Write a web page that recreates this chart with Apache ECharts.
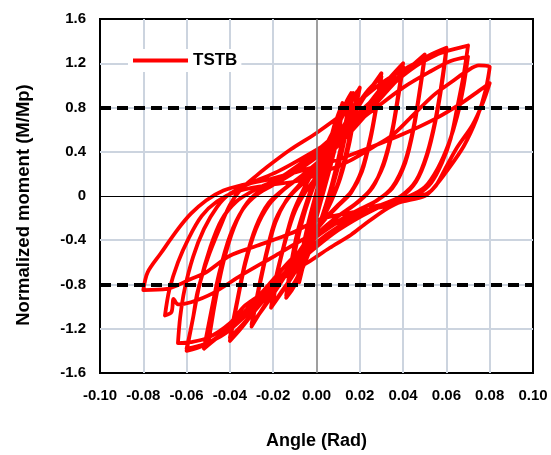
<!DOCTYPE html>
<html>
<head>
<meta charset="utf-8">
<script src="https://cdn.jsdelivr.net/npm/echarts@6/dist/echarts.min.js"></script>
<style>
  html, body { margin: 0; padding: 0; background: #fff; }
  #chart { width: 551px; height: 455px; }
</style>
</head>
<body>
<div id="chart"></div>
<script>
// axis ticks and reference lines
var xTicks = [-0.08, -0.06, -0.04, -0.02, 0.02, 0.04, 0.06, 0.08];
var yTicks = [-1.2, -0.4, 0.4, 1.2];
var limitLines = [0.8, -0.8];

// hysteresis path, one array per amplitude, [angle, M/Mp]
var loopSmall = [[0,0],[0.003,0.2],[0.005,0.36],[0.0035,0.22],[0.001,0],[-0.001,-0.18],[-0.003,-0.34],[-0.0015,-0.2],[0.001,0.02],
  [0.004,0.3],[0.0065,0.5],[0.005,0.36],[0.002,0.08],[-0.001,-0.2],[-0.0045,-0.48],[-0.003,-0.32],[0,-0.06],
  [0.004,0.32],[0.0085,0.66],[0.0065,0.48],[0.003,0.16],[-0.001,-0.22],[-0.006,-0.62],[-0.0045,-0.44],[-0.001,-0.12],
  [0.004,0.32],[0.009,0.68],[0.012,0.84],[0.0105,0.64],[0.007,0.36],[0.003,0.06],[-0.001,-0.24],[-0.005,-0.54],[-0.008,-0.78],
  [-0.0065,-0.58],[-0.0035,-0.3],[0,0.0],[0.004,0.3],[0.008,0.6],[0.012,0.82],[0.0105,0.6],[0.0065,0.27],[0.002,-0.05],
  [-0.002,-0.34],[-0.006,-0.6],[-0.009,-0.78]];
var loop015 = [[-0.007,-0.54],[-0.004,-0.26],[0,0.04],[0.005,0.4],[0.01,0.67],[0.014,0.86],[0.016,0.93],
  [0.014,0.72],[0.011,0.42],[0.007,0.1],[0.003,-0.16],[-0.002,-0.44],[-0.007,-0.68],[-0.011,-0.84],[-0.014,-0.92],
  [-0.012,-0.7],[-0.009,-0.42],[-0.005,-0.12],[0,0.16],[0.006,0.5],[0.012,0.78],[0.017,0.93],
  [0.015,0.72],[0.012,0.42],[0.008,0.12],[0.003,-0.17],[-0.003,-0.48],[-0.009,-0.74],[-0.014,-0.9]];
var loop02 = [[-0.012,-0.64],[-0.009,-0.34],[-0.005,-0.08],[0,0.2],[0.006,0.48],[0.012,0.72],[0.017,0.88],[0.02,0.98],
  [0.018,0.78],[0.015,0.46],[0.011,0.16],[0.007,-0.04],[0.002,-0.24],[-0.004,-0.47],[-0.01,-0.69],[-0.016,-0.87],[-0.021,-1.01],
  [-0.019,-0.76],[-0.015,-0.44],[-0.011,-0.16],[-0.006,0.06],[0,0.28],[0.006,0.52],[0.012,0.74],[0.016,0.86],[0.019,0.95],
  [0.017,0.72],[0.014,0.42],[0.01,0.12],[0.006,-0.06],[0.001,-0.26],[-0.005,-0.5],[-0.011,-0.72],[-0.016,-0.86],[-0.02,-0.98]];
var loop03 = [[-0.018,-0.7],[-0.014,-0.38],[-0.01,-0.14],[-0.005,0.04],[0.001,0.2],[0.008,0.42],[0.015,0.66],[0.021,0.86],[0.026,1.0],[0.03,1.11],
  [0.028,0.86],[0.025,0.54],[0.021,0.24],[0.016,0.04],[0.01,-0.08],[0.004,-0.2],[-0.003,-0.36],[-0.01,-0.56],[-0.017,-0.78],[-0.024,-0.99],[-0.03,-1.18],
  [-0.027,-0.88],[-0.023,-0.52],[-0.019,-0.24],[-0.014,-0.04],[-0.008,0.1],[-0.002,0.24],[0.005,0.42],[0.012,0.62],[0.018,0.8],[0.024,0.96],[0.03,1.08],
  [0.028,0.84],[0.025,0.52],[0.021,0.22],[0.016,0.03],[0.01,-0.09],[0.004,-0.21],[-0.003,-0.38],[-0.01,-0.58],[-0.017,-0.8],[-0.024,-1.0],[-0.03,-1.16]];
var loop04 = [[-0.027,-0.86],[-0.023,-0.5],[-0.019,-0.22],[-0.013,-0.02],[-0.006,0.12],[0.002,0.28],[0.01,0.48],[0.018,0.68],[0.026,0.88],[0.033,1.05],[0.04,1.2],
  [0.038,0.95],[0.035,0.6],[0.031,0.3],[0.026,0.08],[0.019,-0.06],[0.011,-0.17],[0.003,-0.3],[-0.005,-0.46],[-0.013,-0.65],[-0.021,-0.86],[-0.029,-1.05],[-0.035,-1.2],[-0.04,-1.31],
  [-0.037,-1.0],[-0.033,-0.62],[-0.028,-0.3],[-0.022,-0.08],[-0.015,0.06],[-0.007,0.18],[0.002,0.33],[0.01,0.5],[0.018,0.68],[0.026,0.87],[0.033,1.03],[0.04,1.17],
  [0.038,0.92],[0.035,0.58],[0.031,0.28],[0.025,0.06],[0.018,-0.07],[0.01,-0.18],[0.002,-0.31],[-0.006,-0.48],[-0.014,-0.68],[-0.022,-0.88],[-0.03,-1.07],[-0.036,-1.2],[-0.04,-1.28]];
var loop05 = [[-0.037,-0.98],[-0.033,-0.6],[-0.028,-0.28],[-0.022,-0.06],[-0.014,0.08],[-0.005,0.2],[0.005,0.36],[0.015,0.56],[0.025,0.78],[0.034,0.98],[0.042,1.14],[0.05,1.28],
  [0.048,1.0],[0.045,0.64],[0.041,0.32],[0.035,0.08],[0.028,-0.04],[0.019,-0.13],[0.009,-0.24],[-0.001,-0.38],[-0.011,-0.56],[-0.021,-0.78],[-0.031,-1.0],[-0.041,-1.2],[-0.047,-1.3],[-0.052,-1.38],
  [-0.049,-1.08],[-0.045,-0.7],[-0.04,-0.36],[-0.034,-0.12],[-0.027,0.02],[-0.018,0.12],[-0.008,0.24],[0.002,0.38],[0.012,0.56],[0.022,0.76],[0.032,0.96],[0.041,1.12],[0.05,1.25],
  [0.048,0.98],[0.045,0.62],[0.041,0.3],[0.035,0.07],[0.027,-0.05],[0.018,-0.14],[0.008,-0.26],[-0.002,-0.4],[-0.012,-0.58],[-0.022,-0.8],[-0.032,-1.02],[-0.042,-1.22],[-0.05,-1.34]];
var loop06 = [[-0.047,-0.98],[-0.043,-0.6],[-0.038,-0.28],[-0.032,-0.06],[-0.024,0.08],[-0.014,0.2],[-0.003,0.36],[0.009,0.56],[0.02,0.76],[0.031,0.96],[0.042,1.14],[0.052,1.27],[0.06,1.34],
  [0.058,1.05],[0.055,0.7],[0.051,0.38],[0.046,0.14],[0.039,0.0],[0.03,-0.08],[0.02,-0.17],[0.01,-0.28],[0,-0.42],[-0.01,-0.6],[-0.02,-0.8],[-0.031,-1.02],[-0.042,-1.22],[-0.052,-1.35],[-0.06,-1.40],
  [-0.057,-1.1],[-0.054,-0.8],[-0.049,-0.46],[-0.044,-0.22],[-0.037,-0.05],[-0.028,0.06],[-0.018,0.15],[-0.007,0.28],[0.004,0.44],[0.015,0.63],[0.026,0.84],[0.037,1.04],[0.048,1.2],[0.06,1.32],
  [0.058,1.02],[0.055,0.68],[0.051,0.36],[0.046,0.13],[0.039,-0.01],[0.03,-0.09],[0.02,-0.19],[0.01,-0.31],[0,-0.46],[-0.01,-0.63],[-0.02,-0.83],[-0.031,-1.05],[-0.042,-1.24],[-0.052,-1.34],[-0.06,-1.38]];
var loop07 = [[-0.057,-1.1],[-0.055,-0.87],[-0.05,-0.55],[-0.0445,-0.28],[-0.04,-0.08],[-0.035,0.06],[-0.028,0.18],[-0.023,0.26],[-0.012,0.42],[0,0.57],[0.016,0.8],[0.03,1.02],[0.04,1.14],[0.05,1.24],[0.06,1.31],[0.07,1.36],
  [0.068,1.1],[0.065,0.8],[0.062,0.52],[0.058,0.3],[0.053,0.12],[0.047,0.02],[0.04,-0.04],[0.032,-0.12],[0.022,-0.26],[0.016,-0.35],[0.006,-0.47],[-0.004,-0.6],[-0.012,-0.69],[-0.021,-0.83],[-0.033,-0.99],[-0.04,-1.15],[-0.05,-1.28],[-0.058,-1.32],[-0.064,-1.33],
  [-0.063,-1.1],[-0.061,-0.85],[-0.057,-0.55],[-0.052,-0.3],[-0.046,-0.1],[-0.04,0.02],[-0.03,0.12],[-0.018,0.22],[-0.005,0.36],[0.01,0.54],[0.025,0.76],[0.04,0.98],[0.052,1.12],[0.062,1.22],[0.07,1.26],
  [0.068,1.0],[0.065,0.72],[0.061,0.47],[0.056,0.25],[0.05,0.08],[0.043,0.0],[0.034,-0.06],[0.022,-0.14],[0.01,-0.24],[-0.005,-0.38],[-0.02,-0.55],[-0.035,-0.72],[-0.048,-0.88],[-0.058,-0.96],[-0.064,-0.98],[-0.066,-0.93],[-0.067,-1.05],[-0.07,-1.08]];
var loop08 = [[-0.068,-0.85],[-0.064,-0.6],[-0.059,-0.38],[-0.053,-0.18],[-0.046,-0.05],[-0.037,0.04],[-0.025,0.09],[-0.0076,0.14],[0.005,0.23],[0.0155,0.32],[0.026,0.44],[0.035,0.55],[0.043,0.7],[0.054,0.91],[0.063,1.04],[0.0695,1.13],[0.075,1.18],[0.08,1.17],
  [0.078,0.95],[0.074,0.7],[0.068,0.45],[0.06,0.22],[0.054,0.07],[0.05,0.0],[0.04,-0.05],[0.03,-0.1],[0.016,-0.15],[0.0016,-0.21],[-0.012,-0.34],[-0.0275,-0.45],[-0.04,-0.54],[-0.051,-0.69],[-0.058,-0.75],[-0.069,-0.84],[-0.08,-0.85],
  [-0.078,-0.69],[-0.072,-0.52],[-0.064,-0.3],[-0.058,-0.16],[-0.051,-0.04],[-0.043,0.05],[-0.034,0.1],[-0.02,0.16],[-0.005,0.24],[0.01,0.33],[0.025,0.44],[0.04,0.56],[0.055,0.7],[0.067,0.84],[0.075,0.95],[0.08,1.02],
  [0.077,0.85],[0.072,0.64],[0.065,0.44],[0.059,0.23],[0.055,0.09],[0.051,0.02],[0.045,-0.01],[0.035,-0.06],[0.025,-0.1]];

var tstb = [].concat(loopSmall, loop015, loop02, loop03, loop04, loop05, loop06, loop07, loop08);

var chart = echarts.init(document.getElementById('chart'));
var labelFont = { fontFamily: 'Liberation Sans, Arial, sans-serif', fontWeight: 'bold', color: '#000' };
var gridStyle = { color: '#ccd4df', width: 2, type: 'solid' };

// light grid under the curve, drawn at the tick values
var gridMarks = [];
xTicks.forEach(function (v) { gridMarks.push({ xAxis: v, lineStyle: gridStyle }); });
yTicks.concat(limitLines).forEach(function (v) { gridMarks.push({ yAxis: v, lineStyle: gridStyle }); });

// zero axes and dashed ±0.8 lines sit on top of the curve
var topMarks = [
  { xAxis: 0, lineStyle: { color: '#7f7f7f', width: 1.5, type: 'solid' } },
  { yAxis: 0, lineStyle: { color: '#000', width: 1, type: 'solid' } }
];
limitLines.forEach(function (v) { topMarks.push({ yAxis: v, lineStyle: { color: '#000', width: 4, type: [11, 6] } }); });

var option = {
  animation: false,
  grid: {
    left: 100, right: 18, top: 19, bottom: 76,
    show: true, borderColor: '#000', borderWidth: 2, backgroundColor: 'rgba(0,0,0,0)'
  },
  legend: {
    data: ['TSTB'],
    left: 128, top: 49, padding: [3, 4, 3, 5],
    backgroundColor: '#fff',
    icon: 'rect',
    itemWidth: 55, itemHeight: 4, itemGap: 0,
    textStyle: Object.assign({ fontSize: 17 }, labelFont)
  },
  xAxis: {
    type: 'value', min: -0.1, max: 0.1, interval: 0.02,
    name: 'Angle (Rad)', nameLocation: 'middle', nameGap: 59,
    nameTextStyle: Object.assign({ fontSize: 18 }, labelFont),
    axisLine: { onZero: false, lineStyle: { color: '#000', width: 2 } },
    axisTick: { show: false },
    axisLabel: Object.assign({ fontSize: 15, margin: 15, formatter: function (v) { return v.toFixed(2); } }, labelFont),
    splitLine: { show: false }
  },
  yAxis: {
    type: 'value', min: -1.6, max: 1.6, interval: 0.4,
    name: 'Normalized moment (M/Mp)', nameLocation: 'middle', nameGap: 67,
    nameTextStyle: Object.assign({ fontSize: 18.5, padding: [0, 18, 0, 0] }, labelFont),
    axisLine: { onZero: false, lineStyle: { color: '#000', width: 2 } },
    axisTick: { show: false },
    axisLabel: Object.assign({ fontSize: 15, margin: 14, formatter: function (v) { return Math.abs(v) < 1e-9 ? '0' : v.toFixed(1); } }, labelFont),
    splitLine: { show: false }
  },
  series: [
    {
      name: 'grid', type: 'line', data: [], z: 1, silent: true,
      markLine: {
        z: 1, silent: true, symbol: 'none', label: { show: false },
        emphasis: { disabled: true },
        data: gridMarks
      }
    },
    {
      name: 'TSTB', type: 'line', data: tstb, z: 2,
      showSymbol: false, symbol: 'none', smooth: 0.3,
      lineStyle: { color: '#ff0000', width: 3.8, join: 'round', cap: 'round' },
      itemStyle: { color: '#ff0000' }
    },
    {
      name: 'axes', type: 'line', data: [], z: 3, silent: true,
      markLine: {
        z: 5, silent: true, symbol: 'none', label: { show: false },
        emphasis: { disabled: true },
        data: topMarks
      }
    }
  ]
};
chart.setOption(option);
</script>
</body>
</html>
